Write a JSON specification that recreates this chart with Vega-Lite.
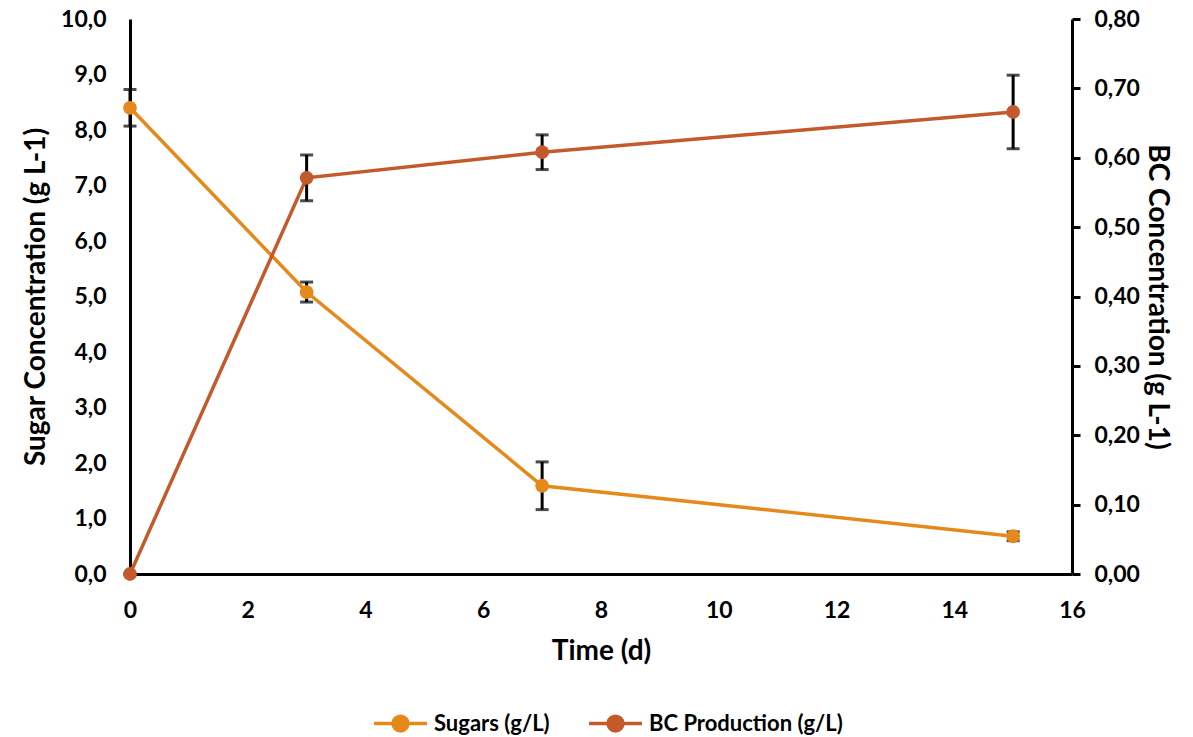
{
  "$schema": "https://vega.github.io/schema/vega-lite/v6.json",
  "autosize": {"type": "none"},
  "width": 942,
  "height": 555,
  "padding": {"left": 130, "top": 19, "right": 121, "bottom": 163},
  "background": "white",
  "data": {
    "values": [
      {"series": "Sugars (g/L)", "time": 0, "value": 8.40, "err": 0.33},
      {"series": "Sugars (g/L)", "time": 3, "value": 5.08, "err": 0.18},
      {"series": "Sugars (g/L)", "time": 7, "value": 1.59, "err": 0.43},
      {"series": "Sugars (g/L)", "time": 15, "value": 0.68, "err": 0.08},
      {"series": "BC Production (g/L)", "time": 0, "value": 0.0, "err": 0.0},
      {"series": "BC Production (g/L)", "time": 3, "value": 0.571, "err": 0.033},
      {"series": "BC Production (g/L)", "time": 7, "value": 0.608, "err": 0.025},
      {"series": "BC Production (g/L)", "time": 15, "value": 0.666, "err": 0.053}
    ]
  },
  "encoding": {
    "x": {
      "field": "time",
      "type": "quantitative",
      "scale": {"domain": [0, 16], "nice": false},
      "axis": {
        "title": "Time (d)",
        "values": [0, 2, 4, 6, 8, 10, 12, 14, 16],
        "ticks": false,
        "labelFlush": false,
        "labelPadding": 25,
        "titlePadding": 15
      }
    }
  },
  "layer": [
    {
      "transform": [{"filter": "datum.series == 'Sugars (g/L)'"}],
      "encoding": {
        "y": {
          "field": "value",
          "type": "quantitative",
          "scale": {"domain": [0, 10], "nice": false},
          "axis": {
            "orient": "left",
            "title": "Sugar Concentration (g L-1)",
            "values": [0, 1, 2, 3, 4, 5, 6, 7, 8, 9, 10],
            "format": ".1f",
            "ticks": false,
            "labelPadding": 24,
            "titlePadding": 10
          }
        }
      },
      "layer": [
        {
          "mark": {"type": "errorbar", "ticks": true, "color": "black", "thickness": 3, "size": 13},
          "encoding": {"yError": {"field": "err"}}
        },
        {
          "mark": {"type": "line", "strokeWidth": 3.5},
          "encoding": {"color": {"field": "series", "type": "nominal"}}
        },
        {
          "mark": {"type": "point", "filled": true, "size": 190, "opacity": 1},
          "encoding": {"color": {"field": "series", "type": "nominal"}}
        }
      ]
    },
    {
      "transform": [{"filter": "datum.series == 'BC Production (g/L)'"}],
      "encoding": {
        "y": {
          "field": "value",
          "type": "quantitative",
          "scale": {"domain": [0, 0.8], "nice": false},
          "axis": {
            "orient": "right",
            "title": "BC Concentration (g L-1)",
            "values": [0, 0.1, 0.2, 0.3, 0.4, 0.5, 0.6, 0.7, 0.8],
            "format": ".2f",
            "ticks": true,
            "tickSize": 8,
            "labelPadding": 14,
            "titlePadding": 3
          }
        }
      },
      "layer": [
        {
          "mark": {"type": "errorbar", "ticks": true, "color": "black", "thickness": 3, "size": 13},
          "encoding": {"yError": {"field": "err"}}
        },
        {
          "mark": {"type": "line", "strokeWidth": 3.5},
          "encoding": {"color": {"field": "series", "type": "nominal"}}
        },
        {
          "mark": {"type": "point", "filled": true, "size": 190, "opacity": 1},
          "encoding": {
            "color": {
              "field": "series",
              "type": "nominal",
              "scale": {
                "domain": ["Sugars (g/L)", "BC Production (g/L)"],
                "range": ["#E6891B", "#C45A2B"]
              },
              "legend": {
                "orient": "none",
                "legendX": 242,
                "legendY": 676,
                "direction": "horizontal",
                "title": null,
                "symbolType": "M-1,0H1M-0.28,0A0.28,0.28,0,1,1,0.28,0A0.28,0.28,0,1,1,-0.28,0Z",
                "symbolSize": 2800,
                "symbolStrokeWidth": 3.5,
                "columnPadding": 32,
                "labelOffset": 5,
                "labelFont": "Lato",
                "labelFontWeight": "bold",
                "labelFontSize": 22,
                "labelColor": "black",
                "labelLimit": 400
              }
            }
          }
        }
      ]
    }
  ],
  "resolve": {"scale": {"y": "independent"}},
  "config": {
    "locale": {
      "number": {"decimal": ",", "thousands": ".", "grouping": [3], "currency": ["", " €"]}
    },
    "view": {"stroke": null},
    "axis": {
      "grid": false,
      "domainColor": "black",
      "domainWidth": 3,
      "tickColor": "black",
      "tickWidth": 3,
      "labelFont": "Lato",
      "labelFontWeight": "bold",
      "labelFontSize": 23,
      "labelColor": "black",
      "titleFont": "Lato",
      "titleFontWeight": "bold",
      "titleFontSize": 28,
      "titleColor": "black"
    }
  }
}
